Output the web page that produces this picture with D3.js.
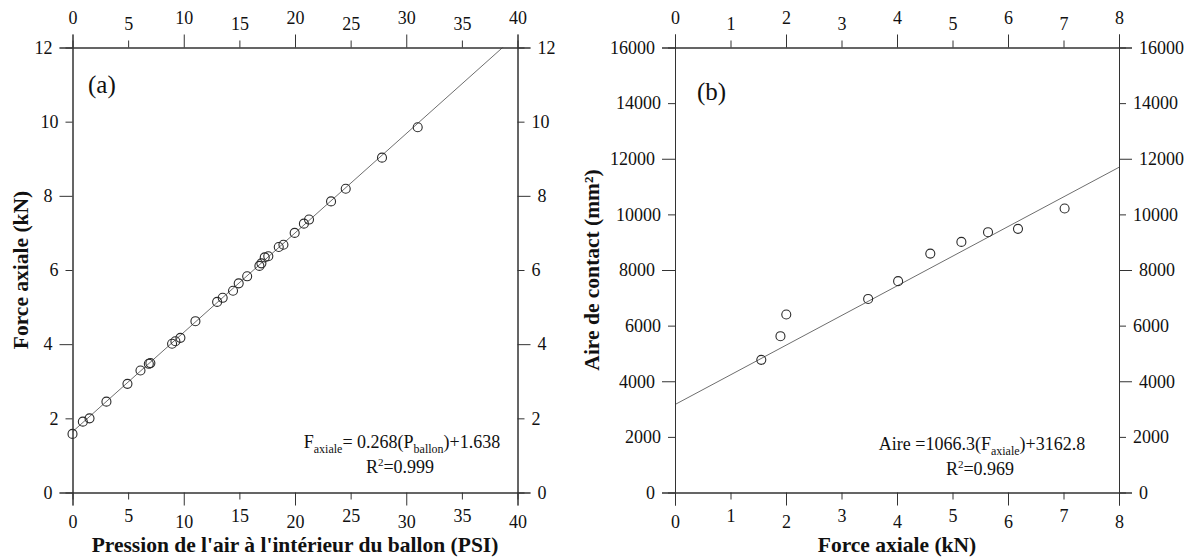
<!DOCTYPE html>
<html>
<head>
<meta charset="utf-8">
<script src="https://cdn.jsdelivr.net/npm/d3@7"></script>
<style>
  html, body { margin: 0; padding: 0; background: #fff; }
  svg { display: block; font-family: "Liberation Serif", "Times New Roman", serif; }
  svg text { font-family: "Liberation Serif", "Times New Roman", serif; fill: #111; }
</style>
</head>
<body>
<svg id="fig" width="1191" height="559"></svg>
<script>
// Panel (a): axial force against balloon air pressure
const pressionPSI = [0, 0.93, 1.53, 3.05, 4.94, 6.11, 6.86, 7.0, 8.95, 9.25, 9.7, 11.05,
  13.0, 13.5, 14.43, 14.94, 15.7, 16.8, 16.98, 17.28, 17.6, 18.54, 18.96, 19.97,
  20.8, 21.26, 23.24, 24.56, 27.82, 31.03];
const forceAxialeA = [1.58, 1.91, 2.0, 2.45, 2.93, 3.29, 3.47, 3.49, 4.01, 4.08, 4.17, 4.62,
  5.14, 5.25, 5.44, 5.64, 5.83, 6.11, 6.18, 6.34, 6.37, 6.62, 6.68, 7.0,
  7.25, 7.36, 7.85, 8.19, 9.03, 9.85];
const fitA = { slope: 0.268, intercept: 1.638 };

// Panel (b): contact area against axial force
const forceAxialeB = [1.555, 1.90, 2.005, 3.48, 4.02, 4.60, 5.16, 5.64, 6.18, 7.02];
const aireContact = [4770, 5620, 6400, 6960, 7600, 8590, 9010, 9360, 9480, 10210];
const fitB = { slope: 1066.3, intercept: 3162.8 };

// Tick values (long ticks = major, short ticks = minor)
const ticksA_xMajor = [0, 10, 20, 30, 40];
const ticksA_xMinor = [5, 15, 25, 35];
const ticksA_yMajor = [0, 4, 8, 12];
const ticksA_yMinor = [2, 6, 10];
const ticksB_xMajor = [0, 2, 4, 6, 8];
const ticksB_xMinor = [1, 3, 5, 7];
const ticksB_yMajor = [0, 4000, 8000, 12000, 16000];
const ticksB_yMinor = [2000, 6000, 10000, 14000];

const SERIF = '"Liberation Serif", "Times New Roman", serif';
const svg = d3.select("#fig");
const AXIS_COLOR = "#333";
const LONG = 13, SHORT = 7;

function drawAxes(g, x, y, t) {
  const fmt = d3.format("d");
  const specs = [
    [d3.axisBottom(x), "translate(0," + y.range()[0] + ")", t.xMajor, t.xMinor, 10],
    [d3.axisTop(x), "translate(0," + y.range()[1] + ")", t.xMajor, t.xMinor, 11],
    [d3.axisLeft(y), "translate(" + x.range()[0] + ",0)", t.yMajor, t.yMinor, 7],
    [d3.axisRight(y), "translate(" + x.range()[1] + ",0)", t.yMajor, t.yMinor, 7]
  ];
  specs.forEach(([maker, tr, major, minor, pad]) => {
    [[major, LONG], [minor, SHORT]].forEach(([vals, len]) => {
      const ax = maker.tickValues(vals).tickSize(len).tickPadding(pad).tickFormat(fmt);
      const a = g.append("g").attr("transform", tr).call(ax)
        .attr("font-family", SERIF).attr("font-size", 18);
      a.selectAll("path.domain").attr("stroke", AXIS_COLOR).attr("stroke-width", 1);
      a.selectAll(".tick line").attr("stroke", AXIS_COLOR).attr("stroke-width", 1);
      a.selectAll(".tick text").attr("fill", "#1a1a1a");
    });
  });
}

function panel(opts) {
  const g = svg.append("g");
  const x = d3.scaleLinear().domain(opts.xDomain).range([opts.left, opts.right]);
  const y = d3.scaleLinear().domain(opts.yDomain).range([opts.bottom, opts.top]);

  const clipId = "clip-" + opts.key;
  svg.append("clipPath").attr("id", clipId).append("rect")
    .attr("x", opts.left).attr("y", opts.top)
    .attr("width", opts.right - opts.left).attr("height", opts.bottom - opts.top);

  // regression line
  const fx = v => opts.fit.slope * v + opts.fit.intercept;
  const xs = [opts.xDomain[0], opts.xDomain[1]];
  g.append("path")
    .attr("clip-path", "url(#" + clipId + ")")
    .attr("d", d3.line().x(d => x(d)).y(d => y(fx(d)))(xs))
    .attr("fill", "none").attr("stroke", "#6e6e6e").attr("stroke-width", 1);

  // measured points
  g.selectAll("circle.pt").data(opts.xs).join("circle")
    .attr("class", "pt")
    .attr("cx", d => x(d))
    .attr("cy", (d, i) => y(opts.ys[i]))
    .attr("r", 4.5)
    .attr("fill", "none").attr("stroke", "#2a2a2a").attr("stroke-width", 1.1);

  drawAxes(g, x, y, opts.ticks);

  // panel letter
  g.append("text").attr("x", opts.letterX).attr("y", opts.letterY)
    .attr("font-size", 25).text(opts.letter);

  // axis titles
  g.append("text")
    .attr("x", (opts.left + opts.right) / 2).attr("y", 552)
    .attr("text-anchor", "middle").attr("font-weight", "bold").attr("font-size", 21.5)
    .text(opts.xTitle);
  g.append("text")
    .attr("transform", "translate(" + opts.yTitleX + "," + ((opts.top + opts.bottom) / 2) + ") rotate(-90)")
    .attr("text-anchor", "middle").attr("font-weight", "bold").attr("font-size", 21.5)
    .text(opts.yTitle);

  // fitted equation
  const eq1 = g.append("text").attr("x", opts.eqX).attr("y", opts.eqY)
    .attr("text-anchor", "middle").attr("font-size", 18);
  opts.eqParts.forEach(p => {
    const ts = eq1.append("tspan").text(p.t);
    if (p.sub) ts.attr("font-size", 12).attr("dy", 5);
    if (p.back) ts.attr("dy", -5);
  });
  const eq2 = g.append("text").attr("x", opts.eqX - 2).attr("y", opts.eqY + 25)
    .attr("text-anchor", "middle").attr("font-size", 18);
  eq2.append("tspan").text("R");
  eq2.append("tspan").attr("font-size", 11).attr("dy", -7).text("2");
  eq2.append("tspan").attr("dy", 7).text("=" + opts.r2);
}

panel({
  key: "a",
  left: 72.5, right: 517.5, top: 47.5, bottom: 492.5,
  xDomain: [0, 40], yDomain: [0, 12],
  xs: pressionPSI, ys: forceAxialeA, fit: fitA,
  ticks: { xMajor: ticksA_xMajor, xMinor: ticksA_xMinor, yMajor: ticksA_yMajor, yMinor: ticksA_yMinor },
  letter: "(a)", letterX: 88, letterY: 93,
  xTitle: "Pression de l'air à l'intérieur du ballon (PSI)",
  yTitle: "Force axiale (kN)", yTitleX: 28,
  eqX: 402, eqY: 448,
  eqParts: [{ t: "F" }, { t: "axiale", sub: true }, { t: "= 0.268(P", back: true },
            { t: "ballon", sub: true }, { t: ")+1.638", back: true }],
  r2: "0.999"
});

panel({
  key: "b",
  left: 675, right: 1119, top: 47.5, bottom: 492.5,
  xDomain: [0, 8], yDomain: [0, 16000],
  xs: forceAxialeB, ys: aireContact, fit: fitB,
  ticks: { xMajor: ticksB_xMajor, xMinor: ticksB_xMinor, yMajor: ticksB_yMajor, yMinor: ticksB_yMinor },
  letter: "(b)", letterX: 697, letterY: 100,
  xTitle: "Force axiale (kN)",
  yTitle: "Aire de contact (mm²)", yTitleX: 599,
  eqX: 982, eqY: 450,
  eqParts: [{ t: "Aire =1066.3(F" }, { t: "axiale", sub: true }, { t: ")+3162.8", back: true }],
  r2: "0.969"
});
</script>
</body>
</html>
